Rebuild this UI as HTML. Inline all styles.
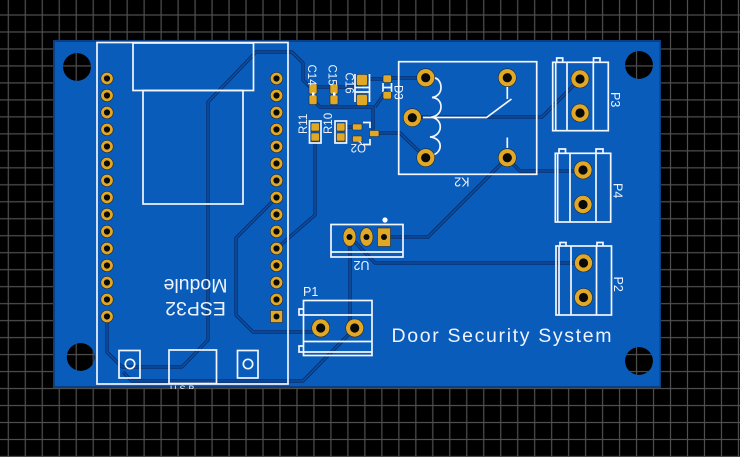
<!DOCTYPE html>
<html>
<head>
<meta charset="utf-8">
<style>
html,body{margin:0;padding:0;background:#000;width:740px;height:457px;overflow:hidden}
svg{display:block}
text{font-family:"Liberation Sans",sans-serif;fill:#eef4ff}
.s{fill:none;stroke:#f2f6ff;stroke-width:1.7}
.t1{fill:none;stroke:#0a2f70;stroke-width:3.4;stroke-linejoin:round}
.t2{fill:none;stroke:#0b55a8;stroke-width:1.3;stroke-linejoin:round}
.g{fill:#e0a825;stroke:#1c2a40;stroke-width:.6}
.l{font-size:11.5px}
.m{font-size:12.5px}
</style>
</head>
<body>
<svg width="740" height="457" viewBox="0 0 740 457" xmlns="http://www.w3.org/2000/svg">
<defs>
<pattern id="grid" width="16.98" height="16.98" patternUnits="userSpaceOnUse" patternTransform="translate(8.3 15)">
<rect x="-.6" y="0" width="1.2" height="16.98" fill="#4f4f4f"/>
<rect x="16.38" y="0" width="1.2" height="16.98" fill="#4f4f4f"/>
<rect x="0" y="-.6" width="16.98" height="1.2" fill="#4f4f4f"/>
<rect x="0" y="16.38" width="16.98" height="1.2" fill="#4f4f4f"/>
</pattern>
<clipPath id="cut"><rect x="165" y="384" width="35" height="5"/></clipPath>
<g id="pad"><circle r="6.2" fill="#e0a825" stroke="#1c2a40" stroke-width=".6"/><circle r="3.1" fill="#0a0a0a"/></g>
<g id="big"><circle r="9" fill="#e0a825" stroke="#1c2a40" stroke-width=".6"/><circle r="4.6" fill="#0a0a0a"/></g>
<path id="tracks" d="M313 90L303 80V63L292 52H256L208 102V340L182 367H122L107 352V316
M123 372L132 381H303L354 329
M276 198L236 238V315L253 332H321
M276 249L315 215V136
M313 100L320 107H373V133
M387 90L375 107
M313 87H362
M362 79H387
M427 78H387
M340 127H357
M374 133H400L426 158
M412 117H542L580 79
M507 158L520 171H583
M507 158L428 237H384
M350 237V328
M350 237L375 263H583"/>
</defs>
<rect width="740" height="457" fill="#000"/>
<rect width="740" height="457" fill="url(#grid)"/>

<!-- board with through holes -->
<path fill-rule="evenodd" fill="#0a3f85" d="M53 40H661V388H53Z
M63 67a14 14 0 1 0 28 0a14 14 0 1 0 -28 0Z
M66.700 357a14 14 0 1 0 28 0a14 14 0 1 0 -28 0Z
M625 65a14 14 0 1 0 28 0a14 14 0 1 0 -28 0Z
M625 361a14 14 0 1 0 28 0a14 14 0 1 0 -28 0Z"/>
<path fill-rule="evenodd" fill="#0a5cba" d="M55 42H659.500V386H55Z
M63 67a14 14 0 1 0 28 0a14 14 0 1 0 -28 0Z
M66.700 357a14 14 0 1 0 28 0a14 14 0 1 0 -28 0Z
M625 65a14 14 0 1 0 28 0a14 14 0 1 0 -28 0Z
M625 361a14 14 0 1 0 28 0a14 14 0 1 0 -28 0Z"/>

<!-- tracks -->
<use href="#tracks" class="t1"/>
<use href="#tracks" class="t2"/>

<!-- ESP32 module -->
<rect class="s" x="97" y="42.500" width="191" height="341.500"/>
<rect class="s" x="133" y="43" width="120.500" height="47.500"/>
<rect class="s" x="143" y="90.500" width="100" height="113.500"/>
<rect class="s" x="119" y="350.500" width="21" height="27.500"/>
<circle class="s" cx="130" cy="364" r="4.700"/>
<rect class="s" x="237.500" y="350.500" width="20.500" height="27.500"/>
<circle class="s" cx="248" cy="364" r="4.700"/>
<rect class="s" x="169" y="350" width="47.500" height="33.500"/>
<text x="170" y="392" font-size="9" letter-spacing="3" clip-path="url(#cut)">USB</text>
<text transform="translate(195.500 279) rotate(180)" text-anchor="middle" font-size="19.500">Module</text>
<text transform="translate(195.500 302) rotate(180)" text-anchor="middle" font-size="19.500">ESP32</text>

<use href="#pad" x="107" y="78.500"/><use href="#pad" x="107" y="95.500"/><use href="#pad" x="107" y="112.500"/><use href="#pad" x="107" y="129.500"/><use href="#pad" x="107" y="146.500"/><use href="#pad" x="107" y="163.500"/><use href="#pad" x="107" y="180.500"/><use href="#pad" x="107" y="197.500"/><use href="#pad" x="107" y="214.500"/><use href="#pad" x="107" y="231.500"/><use href="#pad" x="107" y="248.500"/><use href="#pad" x="107" y="265.500"/><use href="#pad" x="107" y="282.500"/><use href="#pad" x="107" y="299.500"/><use href="#pad" x="107" y="316.500"/>
<use href="#pad" x="276.500" y="78.500"/><use href="#pad" x="276.500" y="95.500"/><use href="#pad" x="276.500" y="112.500"/><use href="#pad" x="276.500" y="129.500"/><use href="#pad" x="276.500" y="146.500"/><use href="#pad" x="276.500" y="163.500"/><use href="#pad" x="276.500" y="180.500"/><use href="#pad" x="276.500" y="197.500"/><use href="#pad" x="276.500" y="214.500"/><use href="#pad" x="276.500" y="231.500"/><use href="#pad" x="276.500" y="248.500"/><use href="#pad" x="276.500" y="265.500"/><use href="#pad" x="276.500" y="282.500"/><use href="#pad" x="276.500" y="299.500"/>
<rect class="g" x="270.500" y="310.500" width="12" height="12"/><circle cx="276.500" cy="316.500" r="3" fill="#0a0a0a"/>

<!-- SMD parts -->
<rect class="g" x="309" y="84" width="8" height="10" rx="1.500"/>
<rect class="g" x="309" y="95" width="8" height="9.500" rx="1.500"/>
<rect x="312" y="92.500" width="2.500" height="3" fill="#fff"/>
<rect class="g" x="330" y="84" width="8" height="10" rx="1.500"/>
<rect class="g" x="330" y="95" width="8" height="9.500" rx="1.500"/>
<rect x="333" y="92.500" width="2.500" height="3" fill="#fff"/>
<path class="s" d="M355 74V102M369.500 74V102M355 87.500H369.500M355 92H369.500"/>
<rect class="g" x="356.500" y="74.500" width="11" height="11" rx="2"/>
<rect class="g" x="356.500" y="94.500" width="11" height="11" rx="2"/>
<path class="s" d="M383 83V92M391.500 83V92M383 87.500H391.500"/>
<rect class="g" x="383" y="75" width="8.500" height="7.500" rx="1.500"/>
<rect class="g" x="383" y="91.500" width="8.500" height="7.500" rx="1.500"/>
<rect class="s" x="309.500" y="121" width="11.500" height="22"/>
<rect class="g" x="311" y="123" width="8.500" height="8" rx="1"/>
<rect class="g" x="311" y="133" width="8.500" height="8" rx="1"/>
<rect class="s" x="335" y="121" width="11.500" height="22"/>
<rect class="g" x="336.500" y="123" width="8.500" height="8" rx="1"/>
<rect class="g" x="336.500" y="133" width="8.500" height="8" rx="1"/>
<path class="s" d="M363 122.500H370V128M363 144.500H370V139"/>
<rect class="g" x="352.500" y="124" width="9.500" height="6" rx="1"/>
<rect class="g" x="352.500" y="136" width="9.500" height="6" rx="1"/>
<rect class="g" x="369.500" y="130.500" width="9.500" height="6" rx="1"/>

<text class="l" transform="translate(308 64.500) rotate(90)">C14</text>
<text class="l" transform="translate(328.500 64.500) rotate(90)">C15</text>
<text class="l" transform="translate(345.500 72.500) rotate(90)">C16</text>
<text class="l" transform="translate(394.500 85) rotate(90)">D3</text>
<text class="l" transform="translate(307 134) rotate(-90)">R11</text>
<text class="l" transform="translate(332 134) rotate(-90)">R10</text>
<text class="l" transform="translate(366 144) rotate(180)">Q2</text>

<!-- K2 relay -->
<rect class="s" x="398.700" y="61.700" width="138" height="112.600"/>
<path class="s" d="M435 78C443 80 444 96 432 97.500C444 98 444 115 432 117M431 117C444 119 443 136 430 137C443 138 443 152 433 155"/>
<path class="s" d="M423 117.500H486.500L511.500 99M507.300 87V99M507.300 137.500V148"/>
<use href="#big" x="425.700" y="77.700"/><use href="#big" x="507.300" y="77.700"/><use href="#big" x="412.300" y="117.700"/><use href="#big" x="425.700" y="157.700"/><use href="#big" x="507.300" y="157.700"/>
<text class="m" transform="translate(469.500 177.500) rotate(180)">K2</text>

<!-- P3 -->
<rect class="s" x="552.700" y="62.300" width="55.600" height="68.400"/>
<path class="s" d="M555.700 62.300V130.700M567 62.300V130.700M593.300 62.300V130.700M556.700 62V58H562.700V62M593.500 62V58H600V62"/>
<use href="#big" x="580" y="79"/><use href="#big" x="580" y="113"/>
<text class="m" transform="translate(611 92) rotate(90)">P3</text>
<!-- P4 -->
<rect class="s" x="555.300" y="153.300" width="55.400" height="68.700"/>
<path class="s" d="M557.700 153.300V222M570 153.300V222M596 153.300V222M559 153V149H565.500V153M596 153V149H603V153"/>
<use href="#big" x="583" y="170"/><use href="#big" x="583" y="204.500"/>
<text class="m" transform="translate(613.500 183) rotate(90)">P4</text>
<!-- P2 -->
<rect class="s" x="556" y="246" width="55.500" height="69"/>
<path class="s" d="M559 246V315M571 246V315M596.500 246V315M560 246V242.500H566V246M597 246V242.500H603V246"/>
<use href="#big" x="583.500" y="263"/><use href="#big" x="583.500" y="297.500"/>
<text class="m" transform="translate(614 276.500) rotate(90)">P2</text>
<!-- P1 -->
<rect class="s" x="303.500" y="300.500" width="68.500" height="55"/>
<path class="s" d="M303.500 315H372M303.500 341.500H372M303.500 352H372M303 309H299V315H303M303 346H299V352H303"/>
<use href="#big" x="320.700" y="328"/><use href="#big" x="354.700" y="328"/>
<text class="m" x="303" y="296">P1</text>

<!-- U2 -->
<rect class="s" x="331" y="224.500" width="72" height="32.500"/>
<path class="s" d="M331 252H403"/>
<circle cx="385" cy="220" r="2.600" fill="#fff"/>
<ellipse class="g" cx="349.500" cy="237" rx="6.500" ry="9.300"/><circle cx="349.500" cy="237" r="3" fill="#0a0a0a"/>
<ellipse class="g" cx="366.500" cy="237" rx="6.500" ry="9.300"/><circle cx="366.500" cy="237" r="3" fill="#0a0a0a"/>
<rect class="g" x="377.500" y="228" width="13" height="18.500"/><circle cx="384" cy="237" r="3" fill="#0a0a0a"/>
<text class="m" transform="translate(369.500 261) rotate(180)">U2</text>

<text x="391.500" y="342" font-size="19.500" textLength="220" lengthAdjust="spacing">Door Security System</text>
</svg>
</body>
</html>
